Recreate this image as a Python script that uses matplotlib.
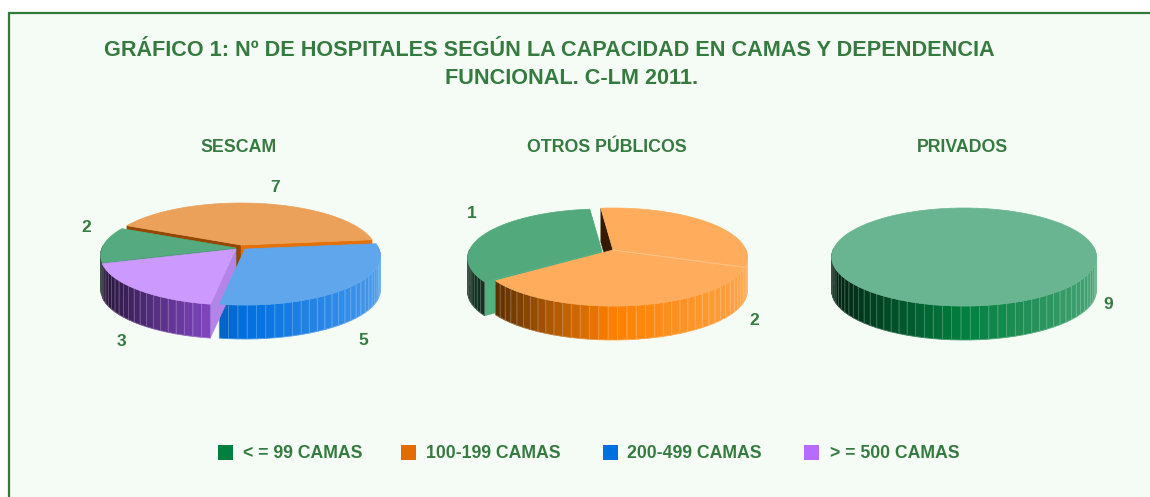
import matplotlib
matplotlib.use('Agg')
import matplotlib.pyplot as plt
from matplotlib.colors import to_rgb
from matplotlib.patches import Polygon, Rectangle
import numpy as np

plt.rcParams['font.family'] = ['Liberation Sans', 'DejaVu Sans']

# datos
categorias = ['< = 99 CAMAS', '100-199 CAMAS', '200-499 CAMAS', '> = 500 CAMAS']
titulos = ['SESCAM', 'OTROS PÚBLICOS', 'PRIVADOS']
sescam = [2, 7, 5, 3]
otros_publicos = [1, 2, 0, 0]
privados = [9, 0, 0, 0]

# colores
VERDE_TXT = '#357A3E'
MARCO = '#317A3A'
FONDO = '#F5FCF6'
colores_leyenda = ['#00803F', '#E36C00', '#0070E0', '#B66DFF']

# perspectiva de las tartas
K = 1 / 7
RY = 48
FONDO_TARTA = 34


def rim(t, rx):
    w = 1 + K * np.sin(t)
    return rx * np.cos(t) / w, -RY * np.sin(t) / w


def sombra(color, x):
    c = np.array(to_rgb(color))
    if x < 0:
        return tuple(c * (1 + 0.8 * x))
    return tuple(c + (1 - c) * 0.3 * x)


def tarta(ax, cx, cy, rx, valores, sup, lat, desp, orden, inicio, etiquetas, corte=None):
    total = sum(valores)
    a = np.radians(inicio)
    rangos = []
    for v in valores:
        rangos.append((a, a - 2 * np.pi * v / total))
        a = rangos[-1][1]

    for i in orden:
        if valores[i] == 0:
            continue
        a0, a1 = rangos[i]
        ox = cx + desp[i][0]
        oy = cy + desp[i][1]
        completo = valores[i] == total
        n = int(abs(a0 - a1) / np.radians(3.5)) + 1
        ts = np.linspace(a0, a1, n + 1)

        # caras del corte
        if not completo:
            for a_c, normal in ((a0, a0 + np.pi / 2), (a1, a1 - np.pi / 2)):
                if np.sin(normal) < 0:
                    px, py = rim(a_c, rx)
                    ax.add_patch(Polygon(
                        [(ox, oy), (ox + px, oy + py), (ox + px, oy + py + FONDO_TARTA), (ox, oy + FONDO_TARTA)],
                        color=sombra(lat[i], np.cos(normal)), lw=0.3, zorder=2))

        # pared exterior a tiras
        for t0, t1 in zip(ts[:-1], ts[1:]):
            tm = (t0 + t1) / 2
            if np.sin(tm) > 0.05:
                continue
            x0, y0 = rim(t0, rx)
            x1, y1 = rim(t1, rx)
            col = sombra(lat[i], np.cos(tm))
            ax.add_patch(Polygon(
                [(ox + x0, oy + y0), (ox + x1, oy + y1), (ox + x1, oy + y1 + FONDO_TARTA), (ox + x0, oy + y0 + FONDO_TARTA)],
                facecolor=col, edgecolor=tuple(c + (1 - c) * 0.25 for c in col), lw=0.6, zorder=2))

        # cara superior
        xs, ys = rim(ts if not completo else np.linspace(0, 2 * np.pi, 240), rx)
        pts = np.column_stack([ox + xs, oy + ys])
        if not completo:
            pts = np.vstack([[ox, oy], pts])
        ax.add_patch(Polygon(pts, closed=True, facecolor=sup[i], edgecolor=sup[i], lw=0.5, zorder=3))

        # etiqueta de valor
        tm = (a0 + a1) / 2
        px, py = rim(tm, rx)
        ex = ox + 1.18 * px + etiquetas[i][0]
        ey = oy + 1.18 * py + etiquetas[i][1]
        if np.sin(tm) < 0:
            ey += FONDO_TARTA
        ax.text(ex, ey, str(valores[i]), fontsize=12.5, fontweight='bold', color=VERDE_TXT,
                ha='center', va='center', zorder=5)

    if corte is not None:
        px, py = rim(np.radians(corte[1]), rx)
        ox = cx + desp[corte[0]][0]
        oy = cy + desp[corte[0]][1]
        ax.plot([ox, ox + px], [oy, oy + py], color='#FFC48C', lw=0.7, zorder=4)


fig = plt.figure(figsize=(11.5, 4.97), dpi=100, facecolor='white')
ax = fig.add_axes([0, 0, 1, 1])
ax.set_xlim(0, 1150)
ax.set_ylim(497, 0)
ax.axis('off')

ax.add_patch(Rectangle((9, 12.5), 1200, 560, facecolor=FONDO, edgecolor=MARCO, lw=1.6, zorder=0))

ax.text(549.5, 50, 'GRÁFICO 1: Nº DE HOSPITALES SEGÚN LA CAPACIDAD EN CAMAS Y DEPENDENCIA',
        fontsize=15.55, fontweight='bold', color=VERDE_TXT, ha='center', va='center')
ax.text(571.5, 78, 'FUNCIONAL. C-LM 2011.', fontsize=15.55, fontweight='bold', color=VERDE_TXT,
        ha='center', va='center')

for x, t in zip([238.5, 607, 963], titulos):
    ax.text(x, 147, t, fontsize=12.8, fontweight='bold', color=VERDE_TXT, ha='center', va='center')

tarta(ax, 240, 247, 134, sescam,
      sup=['#55AB7F', '#EBA15A', '#5FA6EC', '#CC99FF'],
      lat=['#00803F', '#E36C00', '#0070E0', '#9450E0'],
      desp=[(-4, 1), (1, -2), (5, 2), (-4, 2)],
      orden=[1, 0, 2, 3], inicio=197,
      etiquetas=[(6, -16), (11, -9), (-3, 12), (2, 11)])

tarta(ax, 613, 250, 133, otros_publicos,
      sup=['#52A97C', '#FFAD5C', '#000000', '#000000'],
      lat=['#2E9E65', '#FF8000', '#000000', '#000000'],
      desp=[(-11, 1), (0, 0), (0, 0), (0, 0)],
      orden=[0, 1], inicio=216,
      etiquetas=[(5, -16), (-11, 12), (0, 0), (0, 0)], corte=(1, -20))

tarta(ax, 964, 250, 131, privados,
      sup=['#6AB591', '#000000', '#000000', '#000000'],
      lat=['#00803F', '#000000', '#000000', '#000000'],
      desp=[(0, 0), (0, 0), (0, 0), (0, 0)],
      orden=[0], inicio=150,
      etiquetas=[(0, -10), (0, 0), (0, 0), (0, 0)])

for x_cuad, x_txt, c, t in zip([218, 401, 603, 804], [243, 426, 627, 830], colores_leyenda, categorias):
    ax.add_patch(Rectangle((x_cuad, 445), 15, 14.5, facecolor=c, edgecolor='none', zorder=3))
    ax.text(x_txt, 453.5, t, fontsize=12.7, fontweight='bold', color=VERDE_TXT, ha='left', va='center')

fig.savefig('out.png', dpi=100, facecolor='white')
